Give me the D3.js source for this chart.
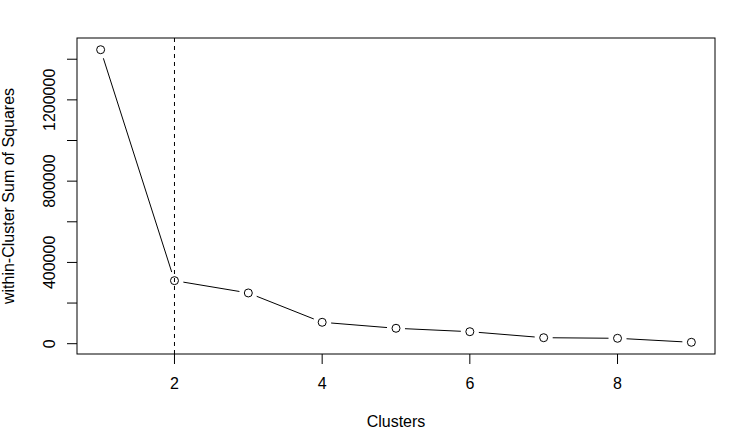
<!DOCTYPE html>
<html>
<head>
<meta charset="utf-8">
<script src="https://cdn.jsdelivr.net/npm/d3@7"></script>
<style>
  body { margin: 0; background: #fff; }
  text { font-family: "Liberation Sans", Arial, sans-serif; font-size: 16px; fill: #000; }
</style>
</head>
<body>
<div id="chart"></div>
<script>
// elbow plot data
var clusters = [1, 2, 3, 4, 5, 6, 7, 8, 9];
var wss = [1446900, 310300, 249700, 105400, 75900, 59100, 29500, 26600, 6900];
var xTicks = [2, 4, 6, 8];
var yTicks = [0, 200000, 400000, 600000, 800000, 1000000, 1200000, 1400000];
var yLabels = [0, 400000, 800000, 1200000];
var elbowAt = 2;

var svgWidth = 734, svgHeight = 431;
var box = { left: 77, right: 715, top: 38, bottom: 354 };

var svg = d3.select("#chart").append("svg")
    .attr("width", svgWidth)
    .attr("height", svgHeight);

// R style 4% padding on each side
function padded(ext) {
    var d = (ext[1] - ext[0]) * 0.04;
    return [ext[0] - d, ext[1] + d];
}
var x = d3.scaleLinear().domain(padded(d3.extent(clusters))).range([box.left, box.right]);
var y = d3.scaleLinear().domain(padded(d3.extent(wss))).range([box.bottom, box.top]);

// box
svg.append("rect")
    .attr("x", box.left).attr("y", box.top)
    .attr("width", box.right - box.left).attr("height", box.bottom - box.top)
    .attr("fill", "none").attr("stroke", "#000").attr("stroke-width", 1);

// x axis ticks + labels
svg.selectAll(".xtick").data(xTicks).enter().append("line")
    .attr("x1", d => x(d)).attr("x2", d => x(d))
    .attr("y1", box.bottom).attr("y2", box.bottom + 10)
    .attr("stroke", "#000");
svg.selectAll(".xlab").data(xTicks).enter().append("text")
    .attr("x", d => x(d)).attr("y", 389)
    .attr("text-anchor", "middle")
    .text(d => d);

// y axis ticks + labels (R drops the overlapping ones)
svg.selectAll(".ytick").data(yTicks).enter().append("line")
    .attr("x1", box.left).attr("x2", box.left - 10)
    .attr("y1", d => y(d)).attr("y2", d => y(d))
    .attr("stroke", "#000");
svg.selectAll(".ylab").data(yLabels).enter().append("text")
    .attr("transform", d => "translate(55," + y(d) + ") rotate(-90)")
    .attr("text-anchor", "middle")
    .text(d => d);

// axis titles
svg.append("text")
    .attr("x", (box.left + box.right) / 2).attr("y", 426.5)
    .attr("text-anchor", "middle")
    .text("Clusters");
svg.append("text")
    .attr("transform", "translate(14," + (box.top + box.bottom) / 2 + ") rotate(-90)")
    .attr("text-anchor", "middle")
    .text("within-Cluster Sum of Squares");

// dashed vertical line at the elbow
svg.append("line")
    .attr("x1", x(elbowAt)).attr("x2", x(elbowAt))
    .attr("y1", box.top).attr("y2", box.bottom)
    .attr("stroke", "#000").attr("stroke-dasharray", "4,4");

// type = "b": segments stop short of the points
var pts = clusters.map((c, i) => [x(c), y(wss[i])]);
var gap = 9;
var segs = [];
for (var i = 0; i < pts.length - 1; i++) {
    var a = pts[i], b = pts[i + 1];
    var dx = b[0] - a[0], dy = b[1] - a[1];
    var len = Math.sqrt(dx * dx + dy * dy);
    if (len > 2 * gap) {
        var ux = dx / len, uy = dy / len;
        segs.push([a[0] + ux * gap, a[1] + uy * gap, b[0] - ux * gap, b[1] - uy * gap]);
    }
}
svg.selectAll(".seg").data(segs).enter().append("line")
    .attr("x1", d => d[0]).attr("y1", d => d[1])
    .attr("x2", d => d[2]).attr("y2", d => d[3])
    .attr("stroke", "#000").attr("stroke-width", 1);

svg.selectAll(".pt").data(pts).enter().append("circle")
    .attr("cx", d => d[0]).attr("cy", d => d[1])
    .attr("r", 4)
    .attr("fill", "none").attr("stroke", "#000").attr("stroke-width", 1);
</script>
</body>
</html>
